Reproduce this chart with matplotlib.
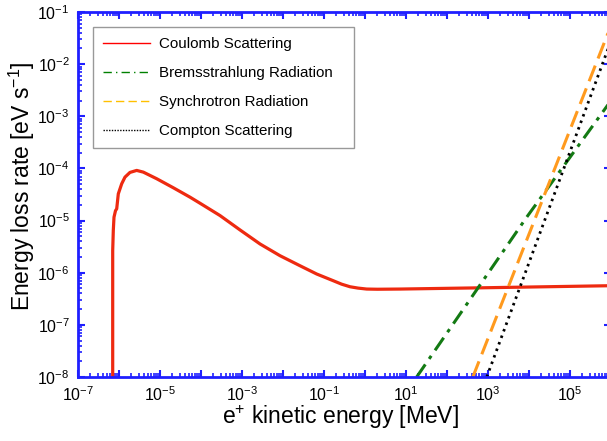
import numpy as np
import matplotlib
matplotlib.use("Agg")
import matplotlib.pyplot as plt
from matplotlib.ticker import LogLocator, FuncFormatter, NullFormatter
from matplotlib.lines import Line2D

plt.rcParams['font.family'] = ['Liberation Sans', 'DejaVu Sans']
plt.rcParams['mathtext.fontset'] = 'custom'
plt.rcParams['mathtext.rm'] = 'Liberation Sans'
plt.rcParams['mathtext.it'] = 'Liberation Sans'

# Coulomb scattering curve (energy in MeV, rate in eV/s)
coulomb_E = [7.02e-7, 7.02e-7, 7.26e-7, 7.55e-7, 8.22e-7, 8.79e-7, 9.62e-7,
             1.164e-6, 1.40e-6, 1.85e-6, 2.70e-6, 3.92e-6, 8.32e-6, 2.11e-5,
             5.40e-5, 9.46e-5, 2.90e-4, 8.93e-4, 2.75e-3, 8.45e-3, 2.60e-2,
             6.64e-2, 0.169, 0.269, 0.431, 0.676, 1.10, 2.0, 7.14, 631.0,
             7.94e5, 1.0e6]
coulomb_rate = [7.9e-9, 2.65e-6, 6.46e-6, 1.16e-5, 1.55e-5, 1.68e-5, 3.26e-5,
                5.08e-5, 6.81e-5, 8.38e-5, 9.16e-5, 8.49e-5, 6.34e-5, 4.26e-5,
                2.81e-5, 2.15e-5, 1.25e-5, 6.62e-6, 3.56e-6, 2.12e-6, 1.36e-6,
                9.44e-7, 7.01e-7, 6.03e-7, 5.38e-7, 5.07e-7, 4.86e-7, 4.82e-7,
                4.86e-7, 5.13e-7, 5.62e-7, 5.75e-7]

brems_E = [18.2, 8.7e3, 1.0e6]
brems_rate = [1e-8, 1.15e-5, 2.0e-3]

synch_E = [427.0, 1.0e6]
synch_rate = [1e-8, 5.5e-2]

compton_E = [933.0, 1.0e6]
compton_rate = [1e-8, 2.8e-2]

labels = ["Coulomb Scattering", "Bremsstrahlung Radiation",
          "Synchrotron Radiation", "Compton Scattering"]

blue = '#1f1fff'

fig = plt.figure(figsize=(6.07, 4.41), dpi=100)
ax = fig.add_axes([78 / 607, 64 / 441, 533 / 607, 365 / 441])

ax.plot(coulomb_E, coulomb_rate, color='#ee2a10', lw=2.3, solid_joinstyle='round')
ax.plot(brems_E, brems_rate, color='#137a13', lw=2.2, linestyle=(0, (5, 2.2, 1.2, 2.2)))
ax.plot(synch_E, synch_rate, color='#ff9a1e', lw=2.2, linestyle=(0, (5.5, 2.5)))
ax.plot(compton_E, compton_rate, color='black', lw=2.0, linestyle=(0, (0.9, 1.6)))

ax.set_xscale('log')
ax.set_yscale('log')
ax.set_xlim(1e-7, 1e6)
ax.set_ylim(1e-8, 1e-1)

ax.xaxis.set_major_locator(LogLocator(base=10, numticks=30))
ax.yaxis.set_major_locator(LogLocator(base=10, numticks=30))
ax.xaxis.set_minor_locator(LogLocator(base=10, subs=np.arange(2, 10), numticks=30))
ax.yaxis.set_minor_locator(LogLocator(base=10, subs=np.arange(2, 10), numticks=30))
ax.xaxis.set_minor_formatter(NullFormatter())
ax.yaxis.set_minor_formatter(NullFormatter())


def xfmt(v, pos):
    e = int(round(np.log10(v)))
    if e % 2 == 0:
        return ''
    return r'$\mathregular{10^{%d}}$' % e


def yfmt(v, pos):
    e = int(round(np.log10(v)))
    return r'$\mathregular{10^{%d}}$' % e


ax.xaxis.set_major_formatter(FuncFormatter(xfmt))
ax.yaxis.set_major_formatter(FuncFormatter(yfmt))

for s in ax.spines.values():
    s.set_color(blue)
    s.set_linewidth(2.0)
ax.tick_params(which='both', direction='in', color=blue, top=True, right=True,
               labelsize=11.5, labelcolor='black', pad=6)
ax.tick_params(which='major', length=5, width=1.5)
ax.tick_params(which='minor', length=3, width=1.2)

ax.set_xlabel(r'e$^{+}$ kinetic energy [MeV]', fontsize=16.5)
ax.set_ylabel(r'Energy loss rate [eV s$^{-1}$]', fontsize=16.5)
ax.xaxis.set_label_coords(0.4916, -0.072)
ax.yaxis.set_label_coords(-0.076, 0.523)

handles = [Line2D([], [], color='red', lw=1.0),
           Line2D([], [], color='green', lw=1.0, linestyle=(0, (6, 3, 1, 3))),
           Line2D([], [], color='#ffc000', lw=1.0, linestyle=(0, (6, 3))),
           Line2D([], [], color='black', lw=1.0, linestyle=(0, (1, 1)))]
leg = ax.legend(handles, labels, loc='upper left',
                bbox_to_anchor=(0.0276, 0.631, 0.490, 0.327), mode='expand',
                fontsize=10.9, frameon=True, fancybox=False, edgecolor='#808080',
                handlelength=3.1, labelspacing=0.99, borderpad=0.66, handletextpad=0.6,
                borderaxespad=0)
leg.get_frame().set_linewidth(1.0)

fig.savefig('out.png', dpi=100)
